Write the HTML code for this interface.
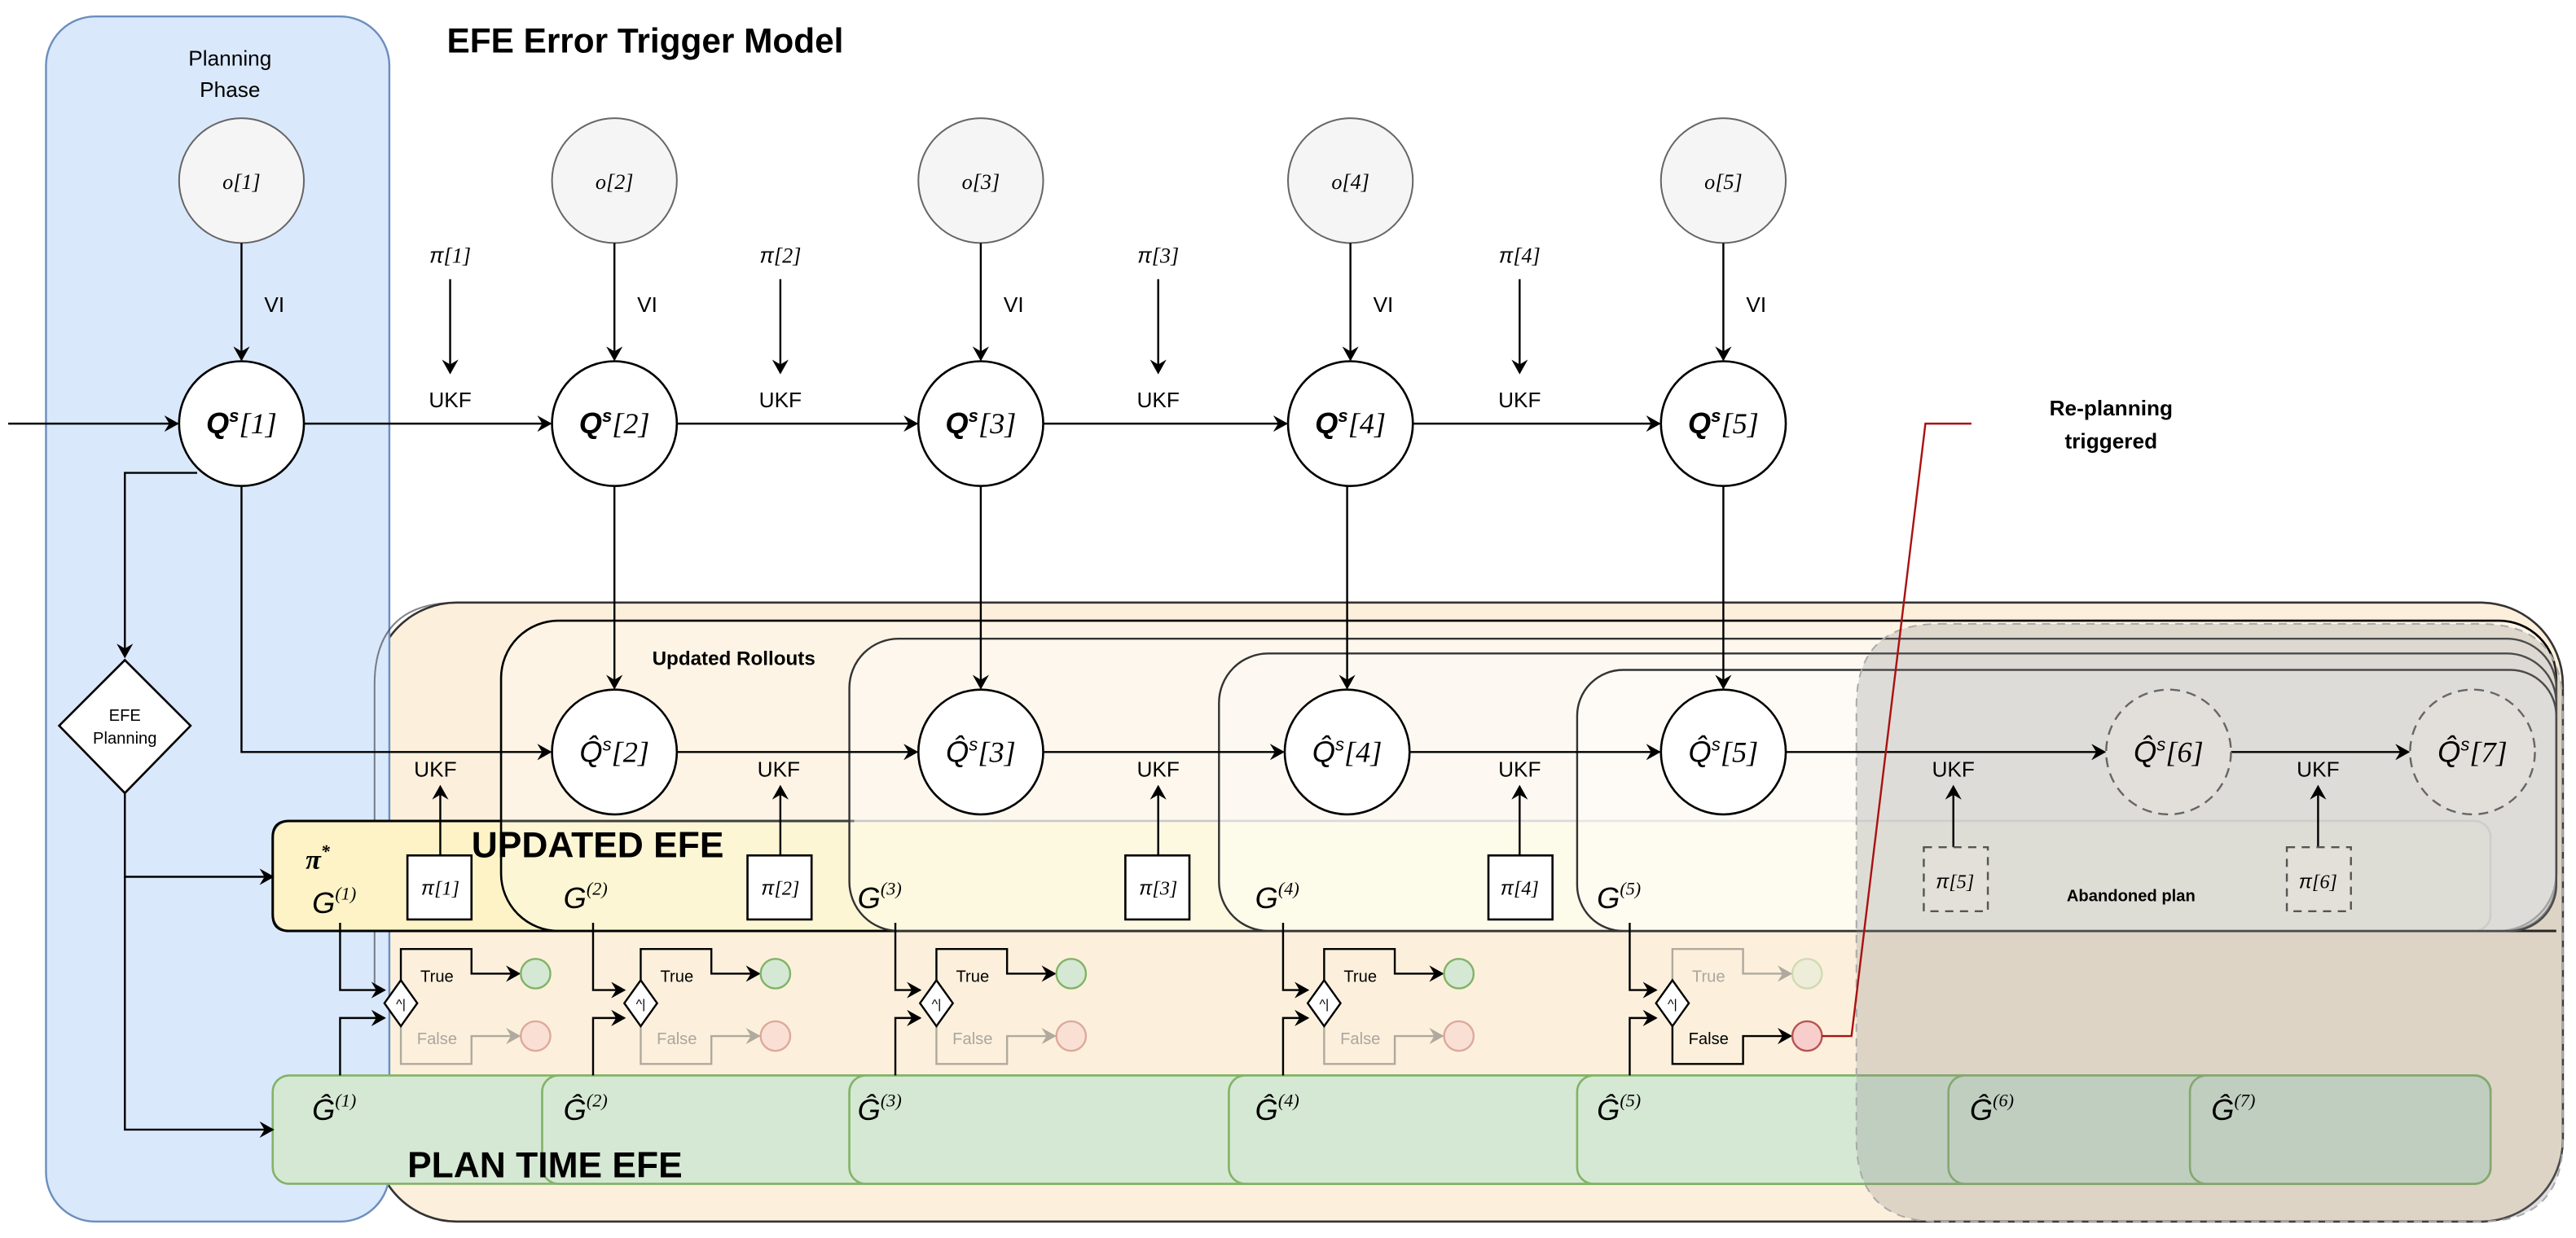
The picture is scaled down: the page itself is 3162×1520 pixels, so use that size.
<!DOCTYPE html>
<html><head><meta charset="utf-8"><style>
html,body{margin:0;padding:0;background:#fff}
svg{display:block}
text{font-family:"Liberation Sans",sans-serif}
.m{font-family:"Liberation Serif",serif;font-style:italic}
.mn{font-family:"Liberation Serif",serif}
</style></head><body>
<svg width="3162" height="1520" viewBox="0 0 1568 754" preserveAspectRatio="none" xmlns="http://www.w3.org/2000/svg">
<defs>
<marker id="a" markerWidth="10" markerHeight="10" refX="8" refY="5" orient="auto" markerUnits="userSpaceOnUse"><path d="M0,0 L9,5 L0,10 L3,5 Z" fill="#000"/></marker>
<marker id="ag" markerWidth="10" markerHeight="10" refX="8" refY="5" orient="auto" markerUnits="userSpaceOnUse"><path d="M0,0 L9,5 L0,10 L3,5 Z" fill="#555"/></marker>
</defs>
<!-- orange box -->
<rect x="228" y="367" width="1332" height="377" rx="50" fill="#fcf0dc" stroke="#333" stroke-width="1.3"/>
<!-- planning phase -->
<rect x="28" y="10" width="209" height="734" rx="30" fill="#dae8fc" stroke="#6c8ebf" stroke-width="1.2"/>
<path d="M228,600 V417 Q228,367 278,367" fill="none" stroke="#333" stroke-width="1" opacity="0.6"/>
<text x="140" y="40" font-size="13" text-anchor="middle">Planning</text>
<text x="140" y="59" font-size="13" text-anchor="middle">Phase</text>
<text x="272" y="32" font-size="21" font-weight="bold">EFE Error Trigger Model</text>
<!-- yellow updated EFE -->
<rect x="166" y="500" width="1350" height="67" rx="10" fill="#fdf3c6" stroke="#999" stroke-width="1.3"/>
<path d="M520,500 H176 Q166,500 166,510 V557 Q166,567 176,567 H1556" fill="none" stroke="#000" stroke-width="1.5"/>
<!-- rollout boxes -->
<rect x="305" y="378" width="1251" height="189" rx="35" fill="rgba(255,255,255,0.25)" stroke="#000" stroke-width="1.3"/>
<rect x="517" y="389" width="1039" height="178" rx="30" fill="rgba(255,255,255,0.3)" stroke="#333" stroke-width="1.2"/>
<rect x="742" y="398" width="814" height="169" rx="30" fill="rgba(255,255,255,0.3)" stroke="#333" stroke-width="1.2"/>
<rect x="960" y="408" width="596" height="159" rx="28" fill="rgba(255,255,255,0.35)" stroke="#333" stroke-width="1.2"/>
<text x="397" y="405" font-size="12" font-weight="bold">Updated Rollouts</text>
<text x="287" y="522" font-size="22" font-weight="bold">UPDATED EFE</text>
<!-- green plan-time boxes -->
<g fill="#d5e8d4" stroke="#82b366" stroke-width="1.3">
<rect x="166" y="655" width="1350" height="66" rx="10"/>
<rect x="330" y="655" width="1186" height="66" rx="10"/>
<rect x="517" y="655" width="999" height="66" rx="10"/>
<rect x="748" y="655" width="768" height="66" rx="10"/>
<rect x="960" y="655" width="556" height="66" rx="10"/>
<rect x="1186" y="655" width="330" height="66" rx="10"/>
<rect x="1333" y="655" width="183" height="66" rx="10"/>
</g>
<text x="248" y="717" font-size="22" font-weight="bold">PLAN TIME EFE</text>
<!-- abandoned overlay -->
<path d="M1180,380 H1510 Q1560,380 1560,430 V694 Q1560,744 1510,744 H1180 Q1130,744 1130,694 V430 Q1130,380 1180,380 Z" fill="rgba(140,140,140,0.28)" stroke="#aaa" stroke-width="1" stroke-dasharray="5,4"/>
<text x="1258" y="549" font-size="10" font-weight="bold">Abandoned plan</text>
<!-- observations -->
<g fill="#f5f5f5" stroke="#666" stroke-width="1">
<circle cx="147" cy="110" r="38"/><circle cx="374" cy="110" r="38"/><circle cx="597" cy="110" r="38"/><circle cx="822" cy="110" r="38"/><circle cx="1049" cy="110" r="38"/>
</g>
<g font-size="13" text-anchor="middle">
<text x="147" y="115" class="m">o<tspan class="mn">[1]</tspan></text>
<text x="374" y="115" class="m">o<tspan class="mn">[2]</tspan></text>
<text x="597" y="115" class="m">o<tspan class="mn">[3]</tspan></text>
<text x="822" y="115" class="m">o<tspan class="mn">[4]</tspan></text>
<text x="1049" y="115" class="m">o<tspan class="mn">[5]</tspan></text>
</g>
<!-- connectors top -->
<g stroke="#000" stroke-width="1.2" fill="none" marker-end="url(#a)">
<line x1="147" y1="148" x2="147" y2="219"/><line x1="374" y1="148" x2="374" y2="219"/><line x1="597" y1="148" x2="597" y2="219"/><line x1="822" y1="148" x2="822" y2="219"/><line x1="1049" y1="148" x2="1049" y2="219"/>
<line x1="274" y1="170" x2="274" y2="227"/><line x1="475" y1="170" x2="475" y2="227"/><line x1="705" y1="170" x2="705" y2="227"/><line x1="925" y1="170" x2="925" y2="227"/>
<line x1="5" y1="258" x2="108" y2="258"/><line x1="185" y1="258" x2="335" y2="258"/><line x1="412" y1="258" x2="558" y2="258"/><line x1="635" y1="258" x2="783" y2="258"/><line x1="860" y1="258" x2="1010" y2="258"/>
<line x1="374" y1="296" x2="374" y2="419"/><line x1="597" y1="296" x2="597" y2="419"/><line x1="820" y1="296" x2="820" y2="419"/><line x1="1049" y1="296" x2="1049" y2="419"/>
<polyline points="147,296 147,458 335,458"/>
<line x1="412" y1="458" x2="558" y2="458"/><line x1="635" y1="458" x2="781" y2="458"/><line x1="858" y1="458" x2="1010" y2="458"/>
<line x1="1087" y1="458" x2="1281" y2="458"/><line x1="1358" y1="458" x2="1466" y2="458"/>
<polyline points="120,288 76,288 76,400"/>
<polyline points="76,483 76,534 166,534"/>
<polyline points="76,534 76,688 166,688"/>
<line x1="268" y1="521" x2="268" y2="479"/><line x1="475" y1="521" x2="475" y2="479"/><line x1="705" y1="521" x2="705" y2="479"/><line x1="925" y1="521" x2="925" y2="479"/>
<line x1="1189" y1="516" x2="1189" y2="479"/><line x1="1411" y1="516" x2="1411" y2="479"/>
</g>
<g font-size="13" text-anchor="middle">
<text x="167" y="190">VI</text><text x="394" y="190">VI</text><text x="617" y="190">VI</text><text x="842" y="190">VI</text><text x="1069" y="190">VI</text>
<text x="274" y="248">UKF</text><text x="475" y="248">UKF</text><text x="705" y="248">UKF</text><text x="925" y="248">UKF</text>
<text x="265" y="473">UKF</text><text x="474" y="473">UKF</text><text x="705" y="473">UKF</text><text x="925" y="473">UKF</text><text x="1189" y="473">UKF</text><text x="1411" y="473">UKF</text>
</g>
<g font-size="13" text-anchor="middle" class="m">
<text x="274" y="160">π<tspan class="mn">[1]</tspan></text><text x="475" y="160">π<tspan class="mn">[2]</tspan></text><text x="705" y="160">π<tspan class="mn">[3]</tspan></text><text x="925" y="160">π<tspan class="mn">[4]</tspan></text>
</g>
<!-- Q circles -->
<g fill="#fff" stroke="#000" stroke-width="1.3">
<circle cx="147" cy="258" r="38"/><circle cx="374" cy="258" r="38"/><circle cx="597" cy="258" r="38"/><circle cx="822" cy="258" r="38"/><circle cx="1049" cy="258" r="38"/>
<circle cx="374" cy="458" r="38"/><circle cx="597" cy="458" r="38"/><circle cx="820" cy="458" r="38"/><circle cx="1049" cy="458" r="38"/>
</g>
<g fill="#e2dfda" stroke="#666" stroke-width="1.2" stroke-dasharray="6,4">
<circle cx="1320" cy="458" r="38"/><circle cx="1505" cy="458" r="38"/>
</g>
<g font-size="18" text-anchor="middle" class="m" font-weight="bold">
<text x="147" y="264">Q<tspan font-size="11" dy="-7">s</tspan><tspan class="mn" dy="7" font-weight="normal">[1]</tspan></text>
<text x="374" y="264">Q<tspan font-size="11" dy="-7">s</tspan><tspan class="mn" dy="7" font-weight="normal">[2]</tspan></text>
<text x="597" y="264">Q<tspan font-size="11" dy="-7">s</tspan><tspan class="mn" dy="7" font-weight="normal">[3]</tspan></text>
<text x="822" y="264">Q<tspan font-size="11" dy="-7">s</tspan><tspan class="mn" dy="7" font-weight="normal">[4]</tspan></text>
<text x="1049" y="264">Q<tspan font-size="11" dy="-7">s</tspan><tspan class="mn" dy="7" font-weight="normal">[5]</tspan></text>
</g>
<g font-size="18" text-anchor="middle" class="m">
<text x="374" y="464">Q̂<tspan font-size="11" dy="-7">s</tspan><tspan class="mn" dy="7">[2]</tspan></text>
<text x="597" y="464">Q̂<tspan font-size="11" dy="-7">s</tspan><tspan class="mn" dy="7">[3]</tspan></text>
<text x="820" y="464">Q̂<tspan font-size="11" dy="-7">s</tspan><tspan class="mn" dy="7">[4]</tspan></text>
<text x="1049" y="464">Q̂<tspan font-size="11" dy="-7">s</tspan><tspan class="mn" dy="7">[5]</tspan></text>
<text x="1320" y="464">Q̂<tspan font-size="11" dy="-7">s</tspan><tspan class="mn" dy="7">[6]</tspan></text>
<text x="1505" y="464">Q̂<tspan font-size="11" dy="-7">s</tspan><tspan class="mn" dy="7">[7]</tspan></text>
</g>
<!-- EFE planning diamond -->
<polygon points="76,402 116,442 76,483 36,442" fill="#fff" stroke="#000" stroke-width="1.3"/>
<text x="76" y="439" font-size="10" text-anchor="middle">EFE</text>
<text x="76" y="453" font-size="10" text-anchor="middle">Planning</text>
<!-- pi boxes -->
<g fill="#fff" stroke="#000" stroke-width="1.3">
<rect x="248" y="521" width="39" height="39"/><rect x="455" y="521" width="39" height="39"/><rect x="685" y="521" width="39" height="39"/><rect x="906" y="521" width="39" height="39"/>
</g>
<g fill="#e2e0d8" stroke="#555" stroke-width="1.2" stroke-dasharray="5,4">
<rect x="1171" y="516" width="39" height="39"/><rect x="1392" y="516" width="39" height="39"/>
</g>
<g font-size="12" text-anchor="middle" class="m">
<text x="268" y="545">π<tspan class="mn">[1]</tspan></text><text x="475" y="545">π<tspan class="mn">[2]</tspan></text><text x="705" y="545">π<tspan class="mn">[3]</tspan></text><text x="925" y="545">π<tspan class="mn">[4]</tspan></text>
<text x="1190" y="541">π<tspan class="mn">[5]</tspan></text><text x="1411" y="541">π<tspan class="mn">[6]</tspan></text>
</g>
<text x="186" y="529" font-size="17" class="m" font-weight="bold">π<tspan font-size="11" dy="-7">*</tspan></text>
<g font-size="18" class="m">
<text x="190" y="556">G<tspan font-size="11" dy="-8" class="mn">(1)</tspan></text>
<text x="343" y="553">G<tspan font-size="11" dy="-8" class="mn">(2)</tspan></text>
<text x="522" y="553">G<tspan font-size="11" dy="-8" class="mn">(3)</tspan></text>
<text x="764" y="553">G<tspan font-size="11" dy="-8" class="mn">(4)</tspan></text>
<text x="972" y="553">G<tspan font-size="11" dy="-8" class="mn">(5)</tspan></text>
<text x="190" y="682">Ĝ<tspan font-size="11" dy="-8" class="mn">(1)</tspan></text>
<text x="343" y="682">Ĝ<tspan font-size="11" dy="-8" class="mn">(2)</tspan></text>
<text x="522" y="682">Ĝ<tspan font-size="11" dy="-8" class="mn">(3)</tspan></text>
<text x="764" y="682">Ĝ<tspan font-size="11" dy="-8" class="mn">(4)</tspan></text>
<text x="972" y="682">Ĝ<tspan font-size="11" dy="-8" class="mn">(5)</tspan></text>
<text x="1199" y="682">Ĝ<tspan font-size="11" dy="-8" class="mn">(6)</tspan></text>
<text x="1346" y="682">Ĝ<tspan font-size="11" dy="-8" class="mn">(7)</tspan></text>
</g>
<!-- comparators -->
<g stroke-width="1.2" fill="none">
<g stroke="#000" marker-end="url(#a)">
<polyline points="207,562 207,603 234,603"/><polyline points="207,655 207,620 234,620"/>
<polyline points="361,562 361,603 380,603"/><polyline points="361,655 361,620 380,620"/>
<polyline points="545,562 545,603 560,603"/><polyline points="545,655 545,620 560,620"/>
<polyline points="781,562 781,603 796,603"/><polyline points="781,655 781,620 796,620"/>
<polyline points="992,562 992,603 1008,603"/><polyline points="992,655 992,620 1008,620"/>
</g>
<g stroke="#000" marker-end="url(#a)">
<polyline points="244,597 244,578 287,578 287,593 316,593"/>
<polyline points="390,597 390,578 433,578 433,593 462,593"/>
<polyline points="570,597 570,578 613,578 613,593 642,593"/>
<polyline points="806,597 806,578 849,578 849,593 878,593"/>
<polyline points="1018,625 1018,648 1061,648 1061,631 1090,631"/>
</g>
<g stroke="#555" opacity="0.45" marker-end="url(#ag)">
<polyline points="244,625 244,648 287,648 287,631 316,631"/>
<polyline points="390,625 390,648 433,648 433,631 462,631"/>
<polyline points="570,625 570,648 613,648 613,631 642,631"/>
<polyline points="806,625 806,648 849,648 849,631 878,631"/>
<polyline points="1018,597 1018,578 1061,578 1061,593 1090,593"/>
</g>
</g>
<g fill="#fff" stroke="#000" stroke-width="1.2">
<polygon points="244,597 254,611 244,625 234,611"/><polygon points="390,597 400,611 390,625 380,611"/><polygon points="570,597 580,611 570,625 560,611"/><polygon points="806,597 816,611 806,625 796,611"/><polygon points="1018,597 1028,611 1018,625 1008,611"/>
</g>
<g font-size="8" text-anchor="middle"><text x="244" y="614">^|</text><text x="390" y="614">^|</text><text x="570" y="614">^|</text><text x="806" y="614">^|</text><text x="1018" y="614">^|</text></g>
<g font-size="10" text-anchor="middle">
<text x="266" y="598">True</text><text x="412" y="598">True</text><text x="592" y="598">True</text><text x="828" y="598">True</text>
<text x="1040" y="636">False</text>
<g fill="#888" opacity="0.7"><text x="266" y="636">False</text><text x="412" y="636">False</text><text x="592" y="636">False</text><text x="828" y="636">False</text><text x="1040" y="598">True</text></g>
</g>
<g stroke="#82b366" fill="#d5e8d4" stroke-width="1.2">
<circle cx="326" cy="593" r="9"/><circle cx="472" cy="593" r="9"/><circle cx="652" cy="593" r="9"/><circle cx="888" cy="593" r="9"/>
<circle cx="1100" cy="593" r="9" opacity="0.35"/>
</g>
<g stroke="#b85450" fill="#f8cecc" stroke-width="1.2" opacity="0.45">
<circle cx="326" cy="631" r="9"/><circle cx="472" cy="631" r="9"/><circle cx="652" cy="631" r="9"/><circle cx="888" cy="631" r="9"/>
</g>
<circle cx="1100" cy="631" r="9" fill="#f8cecc" stroke="#b85450" stroke-width="1.2"/>
<polyline points="1109,631 1127,631 1172,258 1200,258" fill="none" stroke="#a11" stroke-width="1.2"/>
<text x="1285" y="253" font-size="13" font-weight="bold" text-anchor="middle">Re-planning</text>
<text x="1285" y="273" font-size="13" font-weight="bold" text-anchor="middle">triggered</text>
</svg>
</body></html>
